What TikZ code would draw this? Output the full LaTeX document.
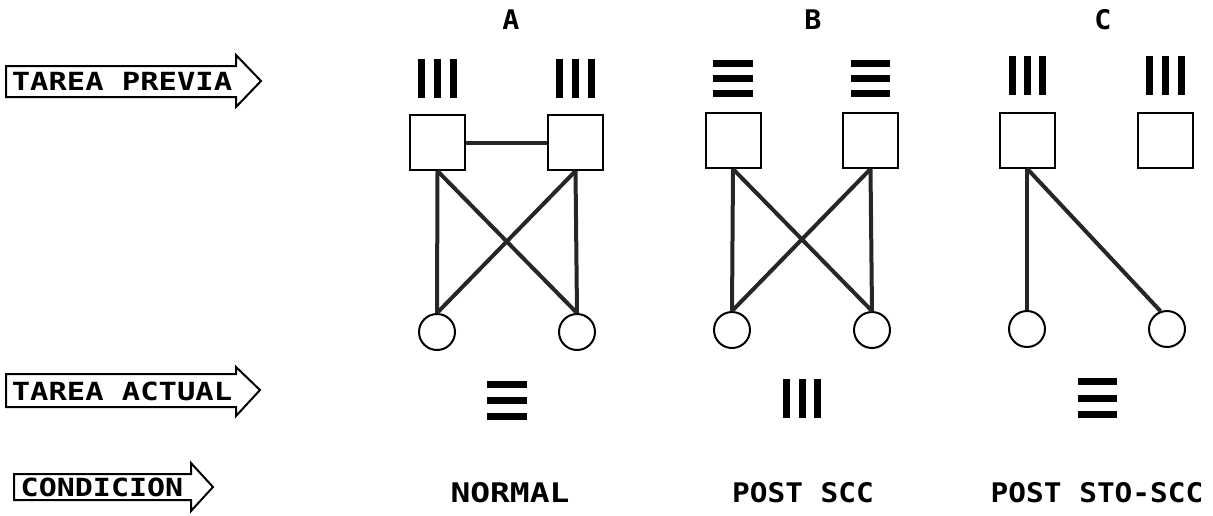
\documentclass[tikz,border=0pt]{standalone}
\usepackage{fontspec}
\newfontfamily\pix{DejaVu Sans Mono}
\begin{document}
\begin{tikzpicture}[x=1pt,y=-1pt,
  lbl/.style={font=\pix\bfseries\fontsize{25}{25}\selectfont, inner sep=0pt},
  cond/.style={font=\pix\bfseries\fontsize{27}{27}\selectfont, inner sep=0pt},
  sq/.style={draw, line width=2pt, minimum size=55pt, inner sep=0pt},
  circ/.style={draw, circle, line width=2pt, minimum size=36pt, inner sep=0pt},
  link/.style={line width=4pt, black!85},
  arr/.style={draw, line width=2pt, line join=miter},
  bar/.style={fill=black}]
\useasboundingbox (0,0) rectangle (1213,515);

% left arrows
\draw[arr] (6,66) -- (236,66) -- (236,55) -- (261,81) -- (236,107) -- (236,97) -- (6,97) -- cycle;
\node[lbl] (tp) at (122,81) {\scalebox{1.22}[1]{TAREA PREVIA}};
\draw[arr] (6,374) -- (236,374) -- (236,367) -- (260,390) -- (236,416) -- (236,407) -- (6,407) -- cycle;
\node[lbl] (ta) at (122,391) {\scalebox{1.22}[1]{TAREA ACTUAL}};
\draw[arr] (14,474) -- (191,474) -- (191,463) -- (213,487) -- (191,511) -- (191,500) -- (14,500) -- cycle;
\node[lbl] (co) at (102,487) {\scalebox{1.2}[1]{CONDICION}};

% column titles
\node[cond] (tA) at (511,20) {\scalebox{1.05}[1]{A}};
\node[cond] (tB) at (813,20) {\scalebox{1.05}[1]{B}};
\node[cond] (tC) at (1103,20) {\scalebox{1.05}[1]{C}};

% ---- A ----
\foreach \x in {421,437,453,559,575,591} \fill[bar] (\x-3.5,59) rectangle (\x+3.5,98);
\node[sq] (a1) at (437.5,142.5) {};
\node[sq] (a2) at (575.5,142.5) {};
\node[circ] (ca1) at (437,332) {};
\node[circ] (ca2) at (577,332) {};
\draw[link] (a1.east) -- (a2.west);
\draw[link] (a1.south) -- (ca1.north);
\draw[link] (a1.south) -- (ca2.north);
\draw[link] (a2.south) -- (ca2.north);
\draw[link] (a2.south) -- (ca1.north);
\foreach \y in {384,400,416} \fill[bar] (487,\y-3.5) rectangle (527,\y+3.5);
\node[cond] (nA) at (510,493) {\scalebox{1.22}[1]{NORMAL}};

% ---- B ----
\foreach \y in {63,78,93} {
  \fill[bar] (713,\y-3.5) rectangle (753,\y+3.5);
  \fill[bar] (851,\y-3.5) rectangle (890,\y+3.5);
}
\node[sq] (b1) at (733,140.5) {};
\node[sq] (b2) at (870.5,140.5) {};
\node[circ] (cb1) at (732,330) {};
\node[circ] (cb2) at (872,330) {};
\draw[link] (b1.south) -- (cb1.north);
\draw[link] (b1.south) -- (cb2.north);
\draw[link] (b2.south) -- (cb2.north);
\draw[link] (b2.south) -- (cb1.north);
\foreach \x in {786,802,817} \fill[bar] (\x-3.5,379) rectangle (\x+3.5,418);
\node[cond] (nB) at (803,493) {\scalebox{1.09}[1]{POST SCC}};

% ---- C ----
\foreach \x in {1012,1027,1042,1149,1165,1181} \fill[bar] (\x-3.5,56) rectangle (\x+3.5,95);
\node[sq] (c1) at (1027,140) {};
\node[sq] (c2) at (1165.5,140) {};
\node[circ] (cc1) at (1027,329) {};
\node[circ] (cc2) at (1167,329) {};
\draw[link] (c1.south) -- (cc1.north);
\draw[link] (c1.south) -- (cc2.110);
\foreach \y in {381,398,414} \fill[bar] (1078,\y-3.5) rectangle (1117,\y+3.5);
\node[cond] (nC) at (1097,493) {\scalebox{1.09}[1]{POST STO-SCC}};
\end{tikzpicture}
\end{document}
